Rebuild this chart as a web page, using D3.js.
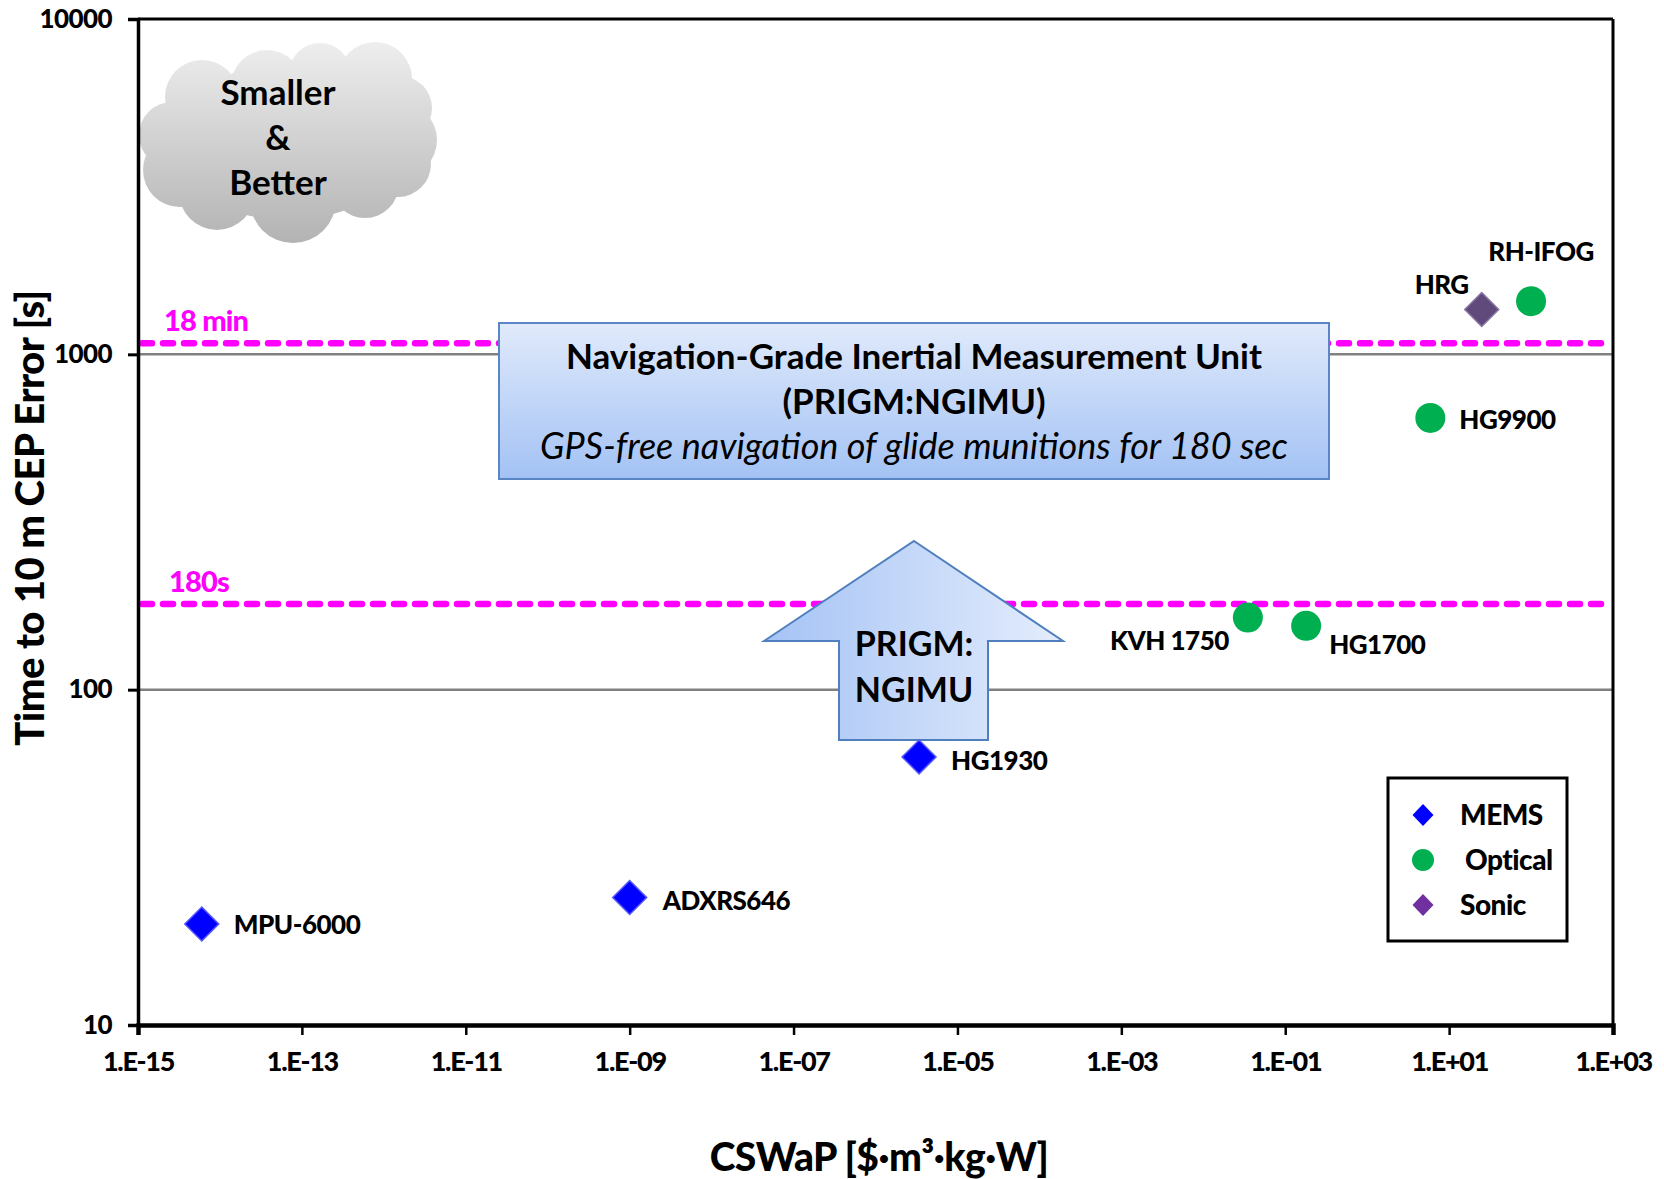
<!DOCTYPE html>
<html>
<head>
<meta charset="utf-8">
<script src="https://cdn.jsdelivr.net/npm/d3@7"></script>
<style>
  html, body { margin: 0; padding: 0; background: #fff; }
  svg { display: block; }
  text { font-family: Lato, "Open Sans", sans-serif; }
</style>
</head>
<body>
<svg id="chart" width="1664" height="1179"></svg>
<script>
// ---------------- DATA ----------------
const categories = ["MPU-6000", "ADXRS646", "HG1930", "KVH 1750", "HG1700", "HG9900", "HRG", "RH-IFOG"];
const sensorTypes = ["MEMS", "MEMS", "MEMS", "Optical", "Optical", "Optical", "Sonic", "Optical"];
const cswapValues = [6e-15, 1e-9, 3.4e-6, 0.035, 0.18, 5.9, 25, 100];
const timeValues = [20, 24, 63, 164, 155, 646, 1360, 1440];

const xTickValues = [1e-15, 1e-13, 1e-11, 1e-9, 1e-7, 1e-5, 1e-3, 1e-1, 1e1, 1e3];
const xTickLabels = ["1.E-15", "1.E-13", "1.E-11", "1.E-09", "1.E-07", "1.E-05", "1.E-03", "1.E-01", "1.E+01", "1.E+03"];
const yTickValues = [10, 100, 1000, 10000];
const yTickLabels = ["10", "100", "1000", "10000"];
const gridValues = [100, 1000];

const refValues = [1080, 180];
const refLabels = ["18 min", "180s"];

const legendTypes = ["MEMS", "Optical", "Sonic"];

// ---------------- LAYOUT ----------------
const svg = d3.select("#chart");
const W = 1664, H = 1179;
const m = { left: 138, right: W - 1613, top: 19, bottom: H - 1025 };
const pw = W - m.left - m.right, ph = H - m.top - m.bottom;

const x = d3.scaleLog().domain([1e-15, 1e3]).range([m.left, m.left + pw]);
const y = d3.scaleLog().domain([10, 10000]).range([m.top + ph, m.top]);

const colorOf = { MEMS: "#0000ff", Optical: "#00b050", Sonic: "#604a7b" };
const legendColorOf = { MEMS: "#0000ff", Optical: "#00b050", Sonic: "#7030a0" };

// label placement (layout only)
const labelLayout = [
  { dx: 32, dy: 1, anchor: "start" },
  { dx: 33, dy: 3, anchor: "start" },
  { dx: 32, dy: 4, anchor: "start" },
  { dx: -19, dy: 23, anchor: "end" },
  { dx: 23, dy: 19, anchor: "start" },
  { dx: 29, dy: 2, anchor: "start" },
  { dx: -13, dy: -25, anchor: "end" },
  { dx: 10, dy: -49, anchor: "middle" }
];

const defs = svg.append("defs");
const cloudGrad = defs.append("linearGradient").attr("id", "cloudGrad")
  .attr("gradientUnits", "userSpaceOnUse").attr("x1", 0).attr("y1", 42).attr("x2", 0).attr("y2", 243);
cloudGrad.append("stop").attr("offset", "0%").attr("stop-color", "#eeeeee");
cloudGrad.append("stop").attr("offset", "100%").attr("stop-color", "#b3b3b3");

const boxGrad = defs.append("linearGradient").attr("id", "boxGrad")
  .attr("x1", 0).attr("y1", 0).attr("x2", 0).attr("y2", 1);
boxGrad.append("stop").attr("offset", "0%").attr("stop-color", "#e0eafb");
boxGrad.append("stop").attr("offset", "100%").attr("stop-color", "#a3c2f4");

const arrowGrad = defs.append("linearGradient").attr("id", "arrowGrad")
  .attr("x1", 0).attr("y1", 0).attr("x2", 1).attr("y2", 0);
arrowGrad.append("stop").attr("offset", "0%").attr("stop-color", "#a5c3f5");
arrowGrad.append("stop").attr("offset", "100%").attr("stop-color", "#e4edfc");

// ---------------- GRID ----------------
svg.append("g").selectAll("line").data(gridValues).join("line")
  .attr("x1", m.left).attr("x2", m.left + pw)
  .attr("y1", d => y(d)).attr("y2", d => y(d))
  .attr("stroke", "#808080").attr("stroke-width", 2.5);

// ---------------- REFERENCE LINES ----------------
svg.append("g").selectAll("line").data(refValues).join("line")
  .attr("x1", m.left + 4).attr("x2", m.left + pw - 2)
  .attr("y1", d => y(d)).attr("y2", d => y(d))
  .attr("stroke", "#ff00ff").attr("stroke-width", 6.5)
  .attr("stroke-dasharray", "10,11").attr("stroke-linecap", "round");

svg.append("g").selectAll("text").data(refValues).join("text")
  .attr("x", (d, i) => m.left + (i === 0 ? 26 : 31))
  .attr("y", d => y(d) - 12)
  .attr("fill", "#ff00ff").attr("font-size", 29).attr("font-weight", 900)
  .attr("letter-spacing", -0.8)
  .text((d, i) => refLabels[i]);

// ---------------- CLOUD ----------------
const cloud = svg.append("g").attr("fill", "url(#cloudGrad)");
const cloudCircles = [
  [202, 97, 37], [267, 86, 36], [320, 74, 31], [375, 79, 37], [400, 108, 32],
  [399, 140, 38], [398, 164, 33], [365, 184, 34], [293, 200, 43], [217, 192, 38],
  [180, 170, 37], [172, 135, 33]
];
cloud.append("ellipse").attr("cx", 288).attr("cy", 142).attr("rx", 118).attr("ry", 78);
cloud.selectAll("circle").data(cloudCircles).join("circle")
  .attr("cx", d => d[0]).attr("cy", d => d[1]).attr("r", d => d[2]);
svg.append("g").selectAll("text").data(["Smaller", "&", "Better"]).join("text")
  .attr("x", 278).attr("y", (d, i) => 105 + i * 45)
  .attr("text-anchor", "middle").attr("font-size", 35).attr("font-weight", 700)
  .attr("fill", "#000").text(d => d);

// ---------------- AXES ----------------
const frame = svg.append("g");
frame.append("line").attr("x1", m.left).attr("x2", m.left + pw).attr("y1", m.top).attr("y2", m.top)
  .attr("stroke", "#000").attr("stroke-width", 3);
frame.append("line").attr("x1", m.left + pw).attr("x2", m.left + pw).attr("y1", m.top).attr("y2", m.top + ph)
  .attr("stroke", "#000").attr("stroke-width", 3);

const yAxis = d3.axisLeft(y).tickValues(yTickValues).tickFormat((d, i) => yTickLabels[i]).tickSize(10).tickPadding(16);
const gy = svg.append("g").attr("transform", `translate(${m.left},0)`).call(yAxis);
gy.select(".domain").attr("stroke", "#000").attr("stroke-width", 3.5);
gy.selectAll(".tick line").attr("stroke", "#000").attr("stroke-width", 3);
gy.selectAll(".tick text").attr("font-family", "Lato, sans-serif").attr("font-size", 26)
  .attr("font-weight", 900).attr("fill", "#000").attr("letter-spacing", -0.6);

const xAxis = d3.axisBottom(x).tickValues(xTickValues).tickFormat((d, i) => xTickLabels[i]).tickSize(10).tickPadding(17);
const gx = svg.append("g").attr("transform", `translate(0,${m.top + ph})`).call(xAxis);
gx.select(".domain").attr("stroke", "#000").attr("stroke-width", 4.5);
gx.selectAll(".tick line").attr("stroke", "#000").attr("stroke-width", 2.5);
gx.selectAll(".tick text").attr("font-family", "Lato, sans-serif").attr("font-size", 27)
  .attr("font-weight", 900).attr("fill", "#000").attr("letter-spacing", -1.3);

// axis titles
svg.append("text").attr("x", 879).attr("y", 1171)
  .attr("text-anchor", "middle").attr("font-size", 39).attr("font-weight", 900)
  .attr("letter-spacing", -0.5).text("CSWaP [$·m³·kg·W]");
svg.append("text").attr("transform", `translate(44,${518}) rotate(-90)`)
  .attr("text-anchor", "middle").attr("font-size", 40).attr("font-weight", 900)
  .attr("letter-spacing", -0.5).text("Time to 10 m CEP Error [s]");

// ---------------- BOX ANNOTATION ----------------
const bx0 = 499, bx1 = 1329, by0 = 323, by1 = 479;
svg.append("rect").attr("x", bx0).attr("y", by0).attr("width", bx1 - bx0).attr("height", by1 - by0)
  .attr("fill", "url(#boxGrad)").attr("stroke", "#5a86c5").attr("stroke-width", 2);
const boxLines = [
  { t: "Navigation-Grade Inertial Measurement Unit", italic: false, bold: true, size: 35 },
  { t: "(PRIGM:NGIMU)", italic: false, bold: true, size: 35 },
  { t: "GPS-free navigation of glide munitions for 180 sec", italic: true, bold: false, size: 36 }
];
svg.append("g").selectAll("text").data(boxLines).join("text")
  .attr("x", (bx0 + bx1) / 2).attr("y", (d, i) => 369 + i * 45)
  .attr("text-anchor", "middle").attr("font-size", d => d.size)
  .attr("font-weight", d => d.bold ? 700 : 400)
  .attr("font-style", d => d.italic ? "italic" : "normal")
  .text(d => d.t);

// ---------------- ARROW ----------------
const ax = 914;
const arrowPts = [[ax, 541], [1063, 641], [988, 641], [988, 740], [839, 740], [839, 641], [764, 641]];
svg.append("path").attr("d", d3.line()(arrowPts) + "Z")
  .attr("fill", "url(#arrowGrad)").attr("stroke", "#4f7fbd").attr("stroke-width", 2);
svg.append("g").selectAll("text").data(["PRIGM:", "NGIMU"]).join("text")
  .attr("x", ax).attr("y", (d, i) => 656 + i * 46)
  .attr("text-anchor", "middle").attr("font-size", 34).attr("font-weight", 700)
  .text(d => d);

// ---------------- POINTS ----------------
const data = categories.map((c, i) => ({ name: c, type: sensorTypes[i], cx: x(cswapValues[i]), cy: y(timeValues[i]), lab: labelLayout[i] }));

function diamondPath(w, h) {
  return `M0,${-h / 2}L${w / 2},0L0,${h / 2}L${-w / 2},0Z`;
}
const pts = svg.append("g");
pts.selectAll("path").data(data.filter(d => d.type !== "Optical")).join("path")
  .attr("transform", d => `translate(${d.cx},${d.cy})`)
  .attr("d", diamondPath(34, 34))
  .attr("fill", d => colorOf[d.type])
  .attr("stroke", d => d.type === "Sonic" ? "#8a76a6" : "#5a5aff").attr("stroke-width", 1.5);
pts.selectAll("circle").data(data.filter(d => d.type === "Optical")).join("circle")
  .attr("cx", d => d.cx).attr("cy", d => d.cy).attr("r", 15)
  .attr("fill", colorOf.Optical);

svg.append("g").selectAll("text").data(data).join("text")
  .attr("x", d => d.cx + d.lab.dx).attr("y", d => d.cy + d.lab.dy)
  .attr("dy", "0.35em").attr("text-anchor", d => d.lab.anchor)
  .attr("font-size", 26).attr("font-weight", 900).attr("letter-spacing", -0.5)
  .attr("fill", "#000").text(d => d.name);

// ---------------- LEGEND ----------------
const lg = svg.append("g");
lg.append("rect").attr("x", 1388).attr("y", 778).attr("width", 179).attr("height", 163)
  .attr("fill", "#fff").attr("stroke", "#000").attr("stroke-width", 3);
const lItems = lg.selectAll("g.item").data(legendTypes).join("g").attr("class", "item")
  .attr("transform", (d, i) => `translate(1423,${815 + i * 45})`);
lItems.each(function (d) {
  const g = d3.select(this);
  if (d === "Optical") {
    g.append("circle").attr("r", 11).attr("fill", legendColorOf[d]);
  } else {
    g.append("path").attr("d", diamondPath(21, 22)).attr("fill", legendColorOf[d]);
  }
});
lItems.append("text").attr("x", (d, i) => i === 1 ? 42 : 37).attr("dy", "0.35em")
  .attr("font-size", 28).attr("font-weight", 900).attr("letter-spacing", -0.5)
  .text(d => d);
</script>
</body>
</html>
